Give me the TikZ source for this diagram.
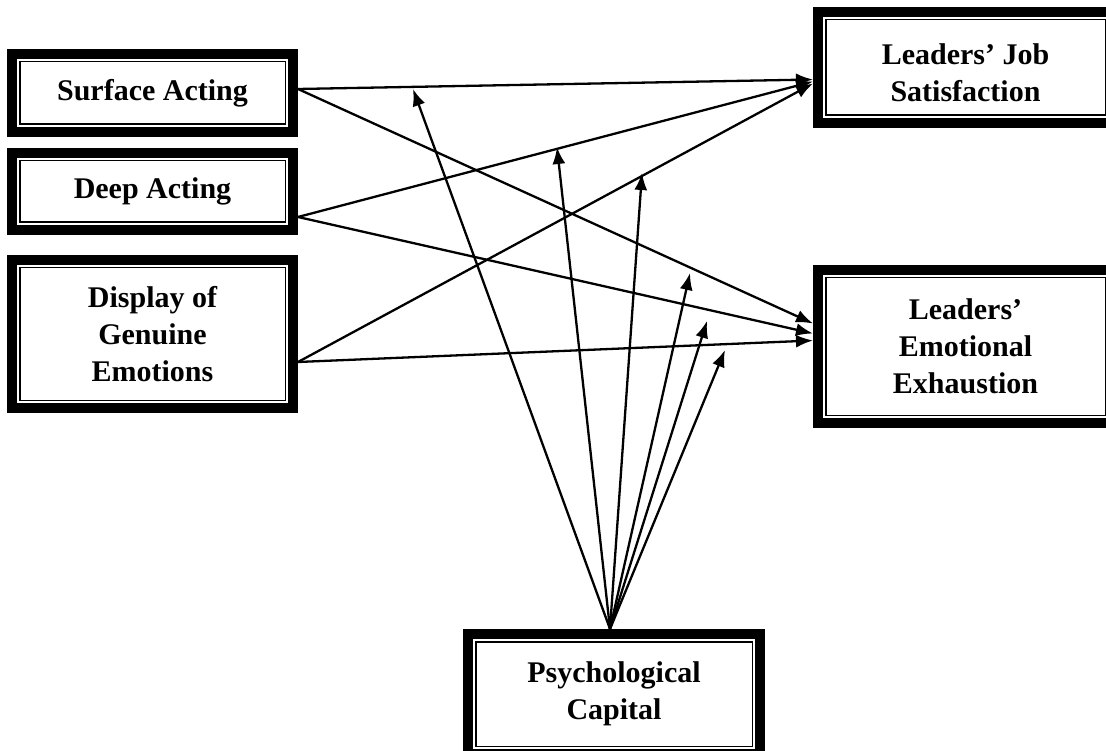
\documentclass[tikz,border=0pt]{standalone}
\usepackage{fontspec}
\setmainfont{Liberation Serif}
\usetikzlibrary{arrows.meta}
\begin{document}
\begin{tikzpicture}[x=1pt,y=-1pt,
  box/.style={draw, line width=10pt, rectangle, inner sep=0pt, align=center,
    font=\fontsize{30}{37}\selectfont\bfseries,
    path picture={\draw[line width=1.8pt]
      ([shift={(7.6pt,-7.6pt)}]path picture bounding box.north west) rectangle
      ([shift={(-7.6pt,7.6pt)}]path picture bounding box.south east);}},
  link/.style={line width=2.3pt, -{Latex[length=17pt,width=13pt]}}
]
\useasboundingbox (0,0) rectangle (1106,751);
\fill[white] (0,0) rectangle (1106,751);
\clip (0,0) rectangle (1106,751);

\node[box, minimum width=281pt, minimum height=78pt] (sa) at (152.5,93) {Surface Acting};
\node[box, minimum width=281pt, minimum height=77pt] (da) at (152.5,191.5) {Deep Acting};
\node[box, minimum width=281pt, minimum height=148pt] (dge) at (152.5,334) {Display of\\Genuine\\Emotions};
\node[box, minimum width=295pt, minimum height=111pt] (js) at (965.5,67.5)
  {\raisebox{-8pt}[\height][\depth]{\begin{tabular}{@{}c@{}}Leaders’ Job\\Satisfaction\end{tabular}}};
\node[box, minimum width=295pt, minimum height=153pt] (ee) at (965.5,346.5) {Leaders’\\Emotional\\Exhaustion};
\node[box, minimum width=292pt, minimum height=120pt] (pc) at (614,694) {Psychological\\Capital};

% direct effects
\draw[link] ([yshift=4pt]sa.east) -- ([yshift=-12pt]js.west);
\draw[link] ([yshift=4pt]sa.east) -- ([yshift=23pt]ee.west);
\draw[link] ([yshift=-25.5pt]da.east) -- ([yshift=-14pt]js.west);
\draw[link] ([yshift=-25.5pt]da.east) -- ([yshift=13pt]ee.west);
\draw[link] ([yshift=-28pt]dge.east) -- ([yshift=-16pt]js.west);
\draw[link] ([yshift=-28pt]dge.east) -- ([yshift=6pt]ee.west);

% moderation
\coordinate (m1) at (413,89);
\coordinate (m2) at (557,147);
\coordinate (m3) at (642,173);
\coordinate (m4) at (690,273);
\coordinate (m5) at (707,321);
\coordinate (m6) at (725,350);
\foreach \m in {m1,m2,m3,m4,m5,m6}
  \draw[link] ([xshift=-4pt]pc.north) -- (\m);
\end{tikzpicture}
\end{document}
